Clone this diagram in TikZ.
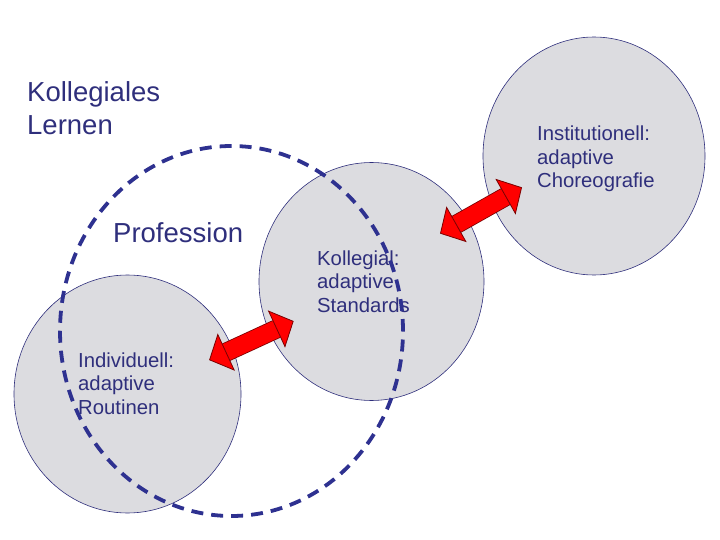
\documentclass[tikz,border=0pt]{standalone}
\usepackage{fontspec}
\setmainfont{Liberation Sans}
\usetikzlibrary{shapes.geometric, arrows.meta, calc}
\definecolor{Navy}{HTML}{2F2F7C}
\definecolor{DashNavy}{HTML}{2E3190}
\definecolor{Disc}{HTML}{DCDCE0}
\definecolor{ArrowRed}{HTML}{FF0000}
\definecolor{ArrowEdge}{HTML}{7A0000}

\begin{document}
\begin{tikzpicture}[x=1pt, y=-1pt,
    disc/.style={ellipse, draw=Navy, line width=0.6pt, fill=Disc, minimum width=225pt, minimum height=238pt, inner sep=0pt},
    ring/.style={ellipse, draw=DashNavy, line width=3.8pt, dash pattern=on 12pt off 8pt, minimum width=343pt, minimum height=370pt, inner sep=0pt},
    big/.style={anchor=base west, inner sep=0pt, align=left, text=Navy, font=\fontsize{27.5}{33}\selectfont},
    small/.style={anchor=base west, inner sep=0pt, align=left, text=Navy, font=\fontsize{20.3}{23.5}\selectfont},
    fat/.tip={Triangle[width=41pt, length=19pt, fill=ArrowRed, color=ArrowEdge, line width=0.8pt]},
    twoway/.style={draw=ArrowEdge, line width=0.8pt, double=ArrowRed, double distance=17.5pt, fat-fat}
  ]
  \useasboundingbox (0,0) rectangle (720,540);

  % the three levels
  \node[disc, minimum width=227pt] (ind) at (127.5,394) {};
  \node[disc] (kol) at (371.5,281.5) {};
  \node[disc, minimum width=222pt] (inst) at (594,156) {};

  % texts (anchored at the baseline of the last line)
  \node[big] (lernen) at (27,135) {Kollegiales\\Lernen};
  \node[big] (proflbl) at (113,243) {Profession};
  \node[small] (indlbl) at (78,414) {Individuell:\\adaptive\\Routinen};
  \node[small] (kollbl) at (317,312) {Kollegial:\\adaptive\\Standards};
  \node[small] (instlbl) at (537,188) {Institutionell:\\adaptive\\Choreografie};

  % profession ring
  \node[ring] (prof) at (231.5,331) {};

  % exchange between levels
  \draw[twoway, shorten <=-26.5pt, shorten >=-26.5pt, transform canvas={shift={(1.5,3)}}] (ind) -- (kol);
  \draw[twoway, shorten <=-31pt, shorten >=-35pt, transform canvas={shift={(-4,-7)}}] (kol) -- (inst);
\end{tikzpicture}
\end{document}
